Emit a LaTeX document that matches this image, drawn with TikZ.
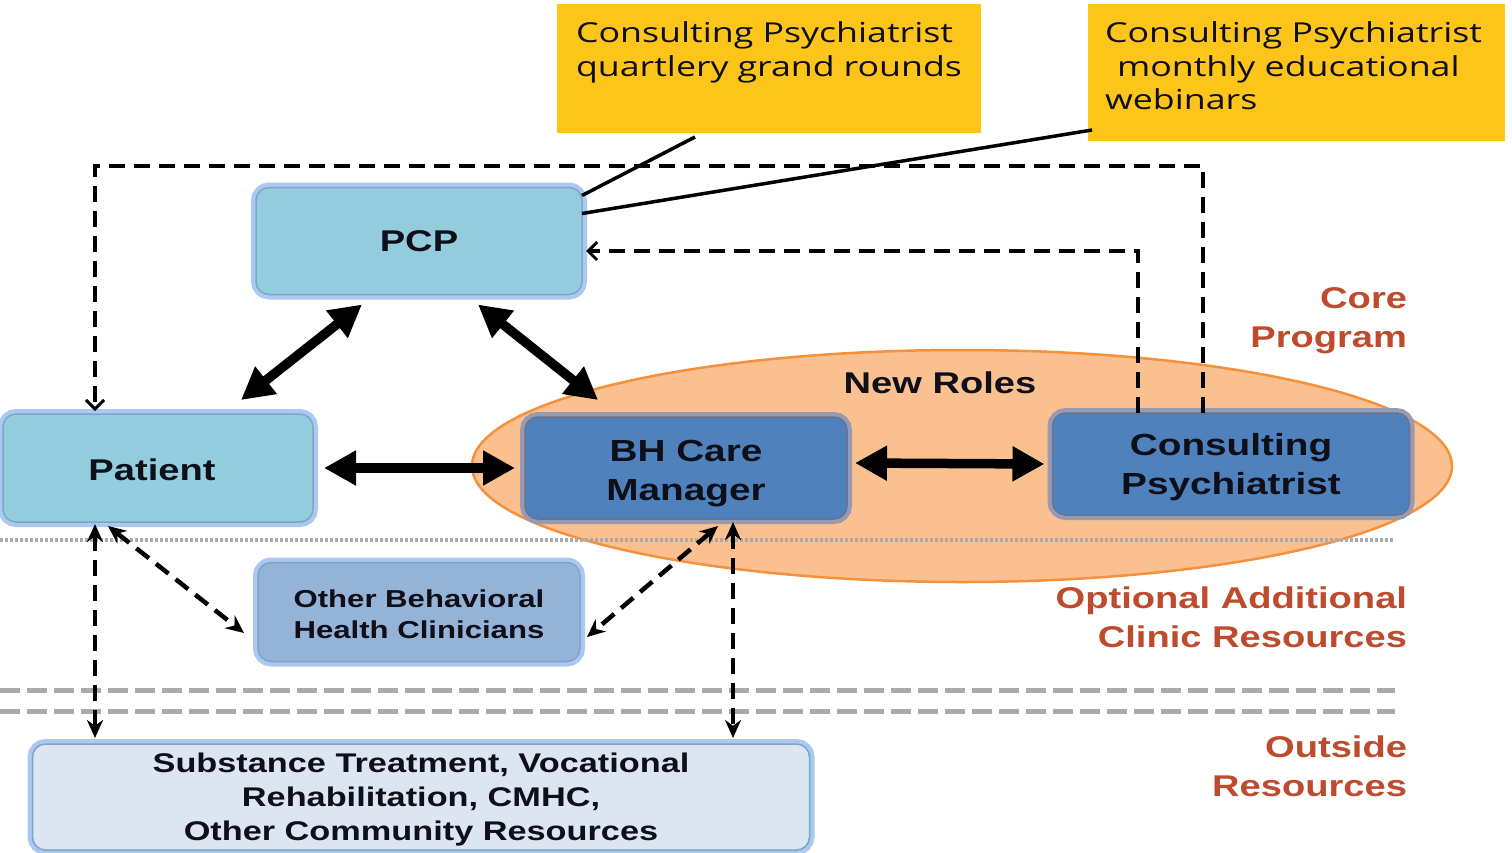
\documentclass[tikz,border=0pt]{standalone}
\usepackage{fontspec}
\setmainfont{Liberation Sans}[FakeStretch=1.27]
\newfontfamily\callfont{Open Sans}[FakeStretch=1.3]
\usetikzlibrary{arrows.meta,shapes.geometric}
\definecolor{pcpfill}{RGB}{147,205,221}
\definecolor{edgeblue}{RGB}{125,165,200}
\definecolor{glowblue}{RGB}{170,200,240}
\definecolor{bhfill}{RGB}{79,129,189}
\definecolor{bhedge}{RGB}{105,115,145}
\definecolor{glowgray}{RGB}{150,155,178}
\definecolor{obhfill}{RGB}{149,179,215}
\definecolor{subfill}{RGB}{220,230,242}
\definecolor{ellfill}{RGB}{250,192,144}
\definecolor{elldraw}{RGB}{245,145,60}
\definecolor{callyellow}{RGB}{253,197,25}
\definecolor{labred}{RGB}{190,75,45}
\definecolor{sepgray}{RGB}{170,170,170}
\definecolor{ink}{RGB}{15,15,25}
\begin{document}
\begin{tikzpicture}[x=1pt,y=-1pt,
  every node/.style={inner sep=0pt, outer sep=0pt, text=ink},
  lightbox/.style={rounded corners=13pt, fill=pcpfill, draw=edgeblue, line width=1.5pt,
    preaction={draw=glowblue, line width=10pt}, align=center,
    font=\fontsize{30}{39}\selectfont\bfseries},
  darkbox/.style={rounded corners=13pt, fill=bhfill, draw=bhedge, line width=1.5pt,
    preaction={draw=glowgray, line width=10pt}, align=center,
    font=\fontsize{30.5}{39}\selectfont\bfseries},
  callbox/.style={fill=callyellow, anchor=north west, inner xsep=19pt, inner ysep=0pt,
    font=\callfont\fontsize{27.5}{33.5}\selectfont},
  sectlabel/.style={text=labred, align=right, anchor=east,
    font=\fontsize{30}{39}\selectfont\bfseries},
  bigarrow/.style={line width=9.5pt, draw=black,
    {Triangle[length=32pt,width=33pt]}-{Triangle[length=32pt,width=33pt]}},
  dasharrow/.style={line width=4.5pt, draw=black, dash pattern=on 16pt off 9pt,
    {Stealth[length=18pt,width=16pt]}-{Stealth[length=18pt,width=16pt]}},
  openarrow/.style={line width=4pt, draw=black, dash pattern=on 16pt off 9pt,
    -{Straight Barb[length=9pt,width=18pt,line width=3pt]}},
  calloutline/.style={line width=3.5pt, draw=black},
  dotsep/.style={line width=4pt, draw=sepgray, dash pattern=on 3pt off 2pt},
  dashsep/.style={line width=5pt, draw=sepgray, dash pattern=on 20pt off 7pt}
]
\useasboundingbox (0,0) rectangle (1512,852);
\fill[white] (0,0) rectangle (1512,852);

% New Roles ellipse
\node[ellipse, fill=ellfill, draw=elldraw, line width=2.5pt,
  minimum width=980pt, minimum height=232pt] (roles) at (962,466) {};
\node[font=\fontsize{30}{36}\selectfont\bfseries] (newroles) at (940,383) {New Roles};

% separators
\coordinate (sepA1) at (0,540);  \coordinate (sepA2) at (1395,540);
\coordinate (sepB1) at (0,690);  \coordinate (sepB2) at (1395,690);
\coordinate (sepC1) at (0,711);  \coordinate (sepC2) at (1395,711);
\draw[dotsep] (sepA1) -- (sepA2);
\draw[dashsep] (sepB1) -- (sepB2);
\draw[dashsep] (sepC1) -- (sepC2);

% yellow callouts
\node[callbox] (y1) at (557,4)
  {\parbox[c][129pt][t]{386pt}{\raggedright\vspace*{18pt}Consulting Psychiatrist\\quartlery grand rounds}};
\node[callbox, inner xsep=17pt] (y2) at (1088,4)
  {\parbox[c][137pt][t]{383pt}{\raggedright\vspace*{18pt}Consulting Psychiatrist\\\hspace*{12pt}monthly educational\\webinars}};

% boxes
\node[lightbox, minimum width=326pt, minimum height=107pt] (pcp) at (419,241) {PCP};
\node[lightbox, minimum width=310pt, minimum height=108pt] (pat) at (158,468) {\rule{0pt}{25pt}Patient\hspace*{12pt}};
\node[darkbox, minimum width=322pt, minimum height=102pt] (bh) at (686,468) {\rule{0pt}{32pt}BH Care\\Manager};
\node[darkbox, minimum width=357pt, minimum height=102pt] (cp) at (1231,464) {\rule{0pt}{29pt}Consulting\\Psychiatrist};
\node[lightbox, fill=obhfill, minimum width=322pt, minimum height=99pt,
  font=\fontsize{24.5}{31}\selectfont\bfseries] (obh) at (419,612) {\rule{0pt}{22pt}Other Behavioral\\Health Clinicians};
\node[lightbox, fill=subfill, minimum width=777pt, minimum height=106pt,
  font=\fontsize{27}{34}\selectfont\bfseries] (sub) at (421,797)
  {\rule{0pt}{25pt}Substance Treatment, Vocational\\Rehabilitation, CMHC,\\Other Community Resources};

% section labels
\node[sectlabel] (core) at (1407,321) {Core\\Program};
\node[sectlabel] (optional) at (1407,617) {Optional Additional\\Clinic Resources};
\node[sectlabel] (outside) at (1407,766) {Outside\\Resources};

% callout lines
\coordinate (c1) at (695,137);
\coordinate (c2) at (1092,130);
\draw[calloutline] (c1) -- ([yshift=-8pt]pcp.north east);
\draw[calloutline] (c2) -- ([yshift=-26pt]pcp.north east);

% dashed feedback loops
\coordinate (loopTR) at (1203,166);
\coordinate (loopTL) at (95,166);
\draw[openarrow] (cp.north -| loopTR) -- (loopTR) -- (loopTL) -- ([yshift=3pt]loopTL |- pat.north);
\coordinate (innerC) at (1138,251);
\draw[openarrow] (cp.north -| innerC) -- (innerC) -- ([xshift=4pt]innerC -| pcp.east);

% dashed double arrows
\coordinate (xA) at (95,0);
\coordinate (xB) at (733,0);
\draw[dasharrow] ([yshift=-2pt]pat.south -| xA) -- ([yshift=6pt]sub.north -| xA);
\draw[dasharrow] ([yshift=-3pt]bh.south -| xB) -- ([yshift=6pt]sub.north -| xB);
\draw[dasharrow] ([xshift=-50pt,yshift=-4pt]pat.south) -- ([xshift=-14pt,yshift=-21pt]obh.west);
\draw[dasharrow] ([xshift=32pt,yshift=-7pt]bh.south) -- ([xshift=7pt,yshift=-25pt]obh.east);

% thick double arrows
\draw[bigarrow] ([xshift=-57pt,yshift=-10pt]pcp.south) -- ([xshift=83pt,yshift=14pt]pat.north);
\draw[bigarrow] ([xshift=59pt,yshift=-10pt]pcp.south) -- ([xshift=-88pt,yshift=17pt]bh.north);
\draw[bigarrow] ([xshift=11pt]pat.east) -- ([xshift=-10pt]bh.west);
\draw[bigarrow] ([xshift=8pt,yshift=5pt]bh.east) -- ([xshift=-8pt]cp.west);
\end{tikzpicture}
\end{document}
